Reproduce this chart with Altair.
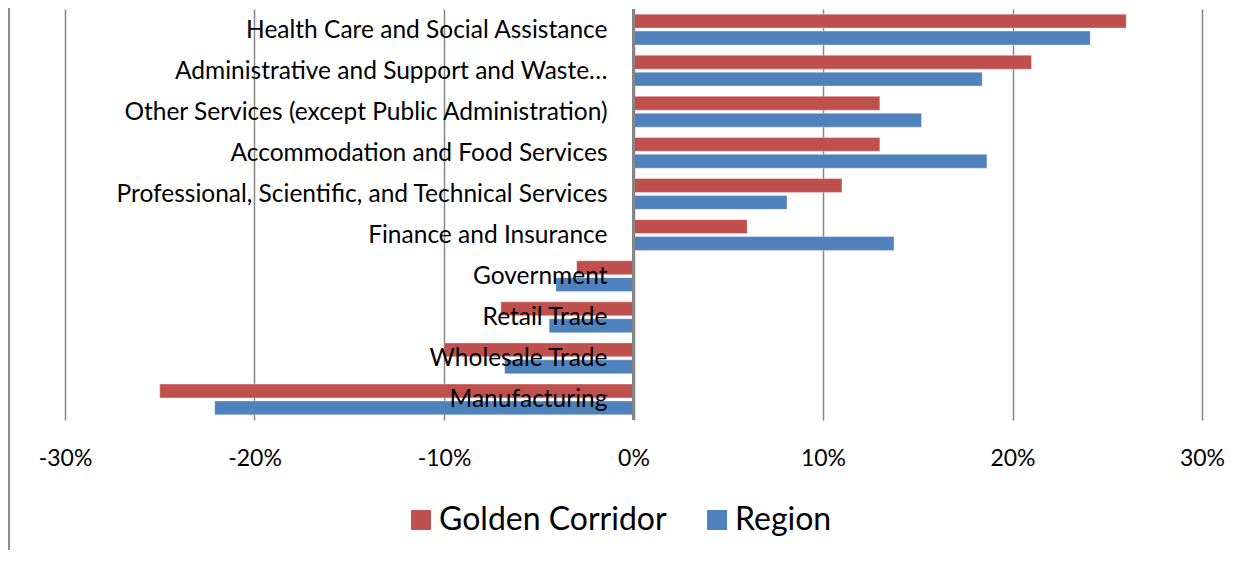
import altair as alt
import pandas as pd

categories = [
    "Health Care and Social Assistance",
    "Administrative and Support and Waste…",
    "Other Services (except Public Administration)",
    "Accommodation and Food Services",
    "Professional, Scientific, and Technical Services",
    "Finance and Insurance",
    "Government",
    "Retail Trade",
    "Wholesale Trade",
    "Manufacturing",
]
golden = [0.26, 0.21, 0.13, 0.13, 0.11, 0.06, -0.03, -0.07, -0.10, -0.25]
region = [0.241, 0.184, 0.152, 0.1865, 0.081, 0.1375, -0.041, -0.0445, -0.068, -0.221]
series = ["Golden Corridor", "Region"]
colors = ["#C0504D", "#4F81BD"]
ticks = [-0.3, -0.2, -0.1, 0.0, 0.1, 0.2, 0.3]

rows = []
for c, g, r in zip(categories, golden, region):
    rows.append({"category": c, "series": series[0], "value": g})
    rows.append({"category": c, "series": series[1], "value": r})
df = pd.DataFrame(rows)

FONT = "Lato"
W, H = 1137, 411
xscale = alt.Scale(domain=[-0.3, 0.3], nice=False, zero=False)
yscale = alt.Scale(paddingInner=0.25, paddingOuter=0.125)

bars = alt.Chart(df).mark_bar(strokeWidth=1, strokeOpacity=0.35, stroke="white").encode(
    x=alt.X("value:Q", scale=xscale,
            axis=alt.Axis(values=ticks,
                          labelExpr="(datum.value < 0 ? '-' : '') + format(abs(datum.value), '.0%')",
                          grid=True, gridColor="#868686", labelFlush=False, labelOverlap=False,
                          gridWidth=1.5, ticks=False, domain=False, labelFontSize=23,
                          labelPadding=27, labelFont=FONT, labelColor="black", title=None)),
    y=alt.Y("category:N", sort=categories, scale=yscale, axis=None),
    yOffset=alt.YOffset("series:N", sort=series,
                        scale=alt.Scale(paddingInner=0.18, paddingOuter=0)),
    color=alt.Color("series:N", sort=series, scale=alt.Scale(domain=series, range=colors),
                    legend=alt.Legend(title=None, orient="none", direction="horizontal",
                                      legendX=340, legendY=495, symbolType="square",
                                      symbolSize=400, symbolStrokeWidth=0, labelFontSize=32,
                                      labelFont=FONT, labelColor="black", labelOffset=2,
                                      columnPadding=34, labelLimit=400)),
)

zero = alt.Chart(pd.DataFrame({"z": [0.0]})).mark_rule(color="#868686", strokeWidth=3).encode(
    x=alt.X("z:Q", scale=xscale)
)

labels = alt.Chart(pd.DataFrame({"category": categories})).mark_text(
    align="right", baseline="middle", dx=-26, dy=1, fontSize=24.5, font=FONT, color="black"
).encode(
    x=alt.datum(0),
    y=alt.Y("category:N", sort=categories, scale=yscale, axis=None),
    text="category:N",
)

border = alt.Chart(pd.DataFrame({"a": [0]})).mark_rule(color="#8c8c8c", strokeWidth=2).encode(
    x=alt.value(-56), y=alt.value(-9), y2=alt.value(560)
)

chart = alt.layer(bars, zero, labels, border).properties(
    width=W, height=H,
    autosize=alt.AutoSizeParams(type="none"),
    padding={"left": 57, "top": 1, "right": 40, "bottom": 130},
).configure_view(stroke=None)

chart.save("out.html", embed_options={"renderer": "svg", "actions": False})
